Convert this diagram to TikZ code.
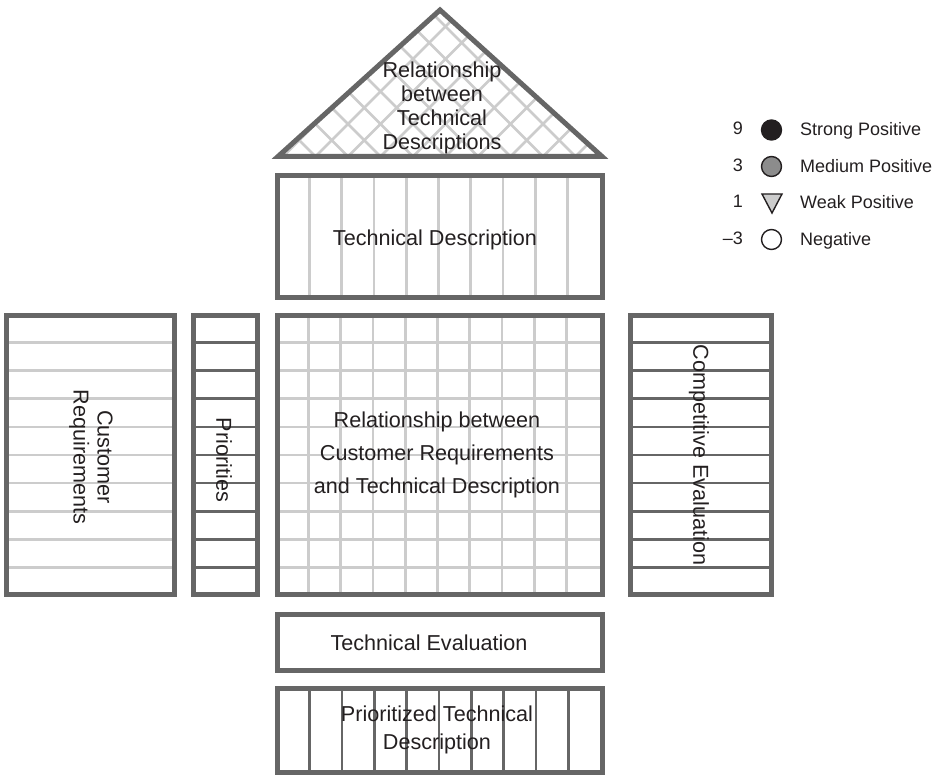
\documentclass[tikz,border=0pt]{standalone}
\usepackage{fontspec}
\setmainfont{Liberation Sans}
\definecolor{frame}{HTML}{666666}
\definecolor{gridc}{HTML}{CCCCCC}
\definecolor{ink}{HTML}{231F20}
\definecolor{medgray}{HTML}{8C8C8C}
\begin{document}
\begin{tikzpicture}[x=1pt,y=-1pt,
  boxframe/.style={draw=frame, line width=5pt, rectangle, inner sep=0pt, outer sep=0pt},
  lightline/.style={draw=gridc, line width=2.7pt},
  darkline/.style={draw=frame, line width=2.7pt},
  lbl/.style={text=ink, font=\fontsize{21.6}{24}\selectfont, align=center, inner sep=0pt},
  leg/.style={text=ink, font=\fontsize{18}{21}\selectfont, inner sep=0pt},
  legdot/.style={circle, draw=ink, line width=1.4pt, minimum size=20pt, inner sep=0pt}
]
\useasboundingbox (0,0) rectangle (945,775);

% ---------- roof ----------
\coordinate (rl) at (278,156.5);
\coordinate (rt) at (440,10);
\coordinate (rr) at (602,156.5);
\begin{scope}
  \clip (rl) -- (rt) -- (rr) -- cycle;
  \foreach \k in {-2,...,12} {
    \draw[lightline] (283+32.5*\k,156.5) -- ++(180,-180);
    \draw[lightline] (283+32.5*\k,156.5) -- ++(-180,-180);
  }
\end{scope}
\draw[draw=frame, line width=5pt, line join=miter] (rl) -- (rt) -- (rr) -- cycle;
\node[lbl] (roofl) at (442,108) {Relationship\\between\\Technical\\Descriptions};

% ---------- grid lines ----------
\foreach \k in {1,...,9} {
  % rows
  \draw[lightline] (6.7,314.6+28.08*\k) -- (174,314.6+28.08*\k);
  \draw[darkline] (193.3,314.6+28.08*\k) -- (257.5,314.6+28.08*\k);
  \draw[lightline] (277.5,314.6+28.08*\k) -- (602.5,314.6+28.08*\k);
  \draw[darkline] (630.5,314.6+28.08*\k) -- (771,314.6+28.08*\k);
  % columns
  \draw[lightline] (277+32.3*\k,175.5) -- (277+32.3*\k,297.5);
  \draw[lightline] (276+32.3*\k,315.5) -- (276+32.3*\k,594.5);
  \draw[darkline] (277.5+32.3*\k,688.5) -- (277.5+32.3*\k,772);
}

% ---------- boxes ----------
\node[boxframe, minimum width=325pt, minimum height=122pt] (td) at (440,236.5) {};
\node[boxframe, minimum width=167.3pt, minimum height=279pt] (cr) at (90.35,455) {};
\node[boxframe, minimum width=64.2pt, minimum height=279pt] (pr) at (225.4,455) {};
\node[boxframe, minimum width=325pt, minimum height=279pt] (rel) at (440,455) {};
\node[boxframe, minimum width=140.5pt, minimum height=279pt] (ce) at (700.75,455) {};
\node[boxframe, minimum width=325pt, minimum height=56pt] (te) at (440,642) {};
\node[boxframe, minimum width=325pt, minimum height=83.5pt] (ptd) at (440,730.25) {};

% ---------- labels ----------
\node[lbl] (tdl) at (435,240) {Technical Description};
\node[lbl, rotate=-90] (crl) at (91,457) {Customer\\Requirements};
\node[lbl, rotate=-90] (prl) at (224,460) {Priorities};
\node[lbl, font=\fontsize{21.6}{33}\selectfont] (rell) at (437,455) {Relationship between\\Customer Requirements\\and Technical Description};
\node[lbl, rotate=-90] (cel) at (699,455) {Competitive Evaluation};
\node[lbl] (tel) at (429,643) {Technical Evaluation};
\node[lbl, font=\fontsize{21.6}{28}\selectfont] (ptdl) at (437,730) {Prioritized Technical\\Description};

% ---------- legend ----------
\node[leg, anchor=mid east] (n9) at (743,132) {9};
\node[leg, anchor=mid east] (n3) at (743,168.5) {3};
\node[leg, anchor=mid east] (n1) at (743,205) {1};
\node[leg, anchor=mid east] (nm3) at (743,241.5) {–3};
\node[legdot, fill=ink] (d9) at (771.5,130) {};
\node[legdot, fill=medgray] (d3) at (771.5,166.5) {};
\node[legdot, fill=white] (dm3) at (771.5,239.5) {};
\coordinate (tria) at (762,194);
\coordinate (trib) at (782,194);
\coordinate (tric) at (772,213);
\draw[draw=ink, line width=1.4pt, fill=gridc, line join=miter] (tria) -- (trib) -- (tric) -- cycle;
\node[leg, anchor=mid west] (t9) at (800,133) {Strong Positive};
\node[leg, anchor=mid west] (t3) at (800,169.5) {Medium Positive};
\node[leg, anchor=mid west] (t1) at (800,206) {Weak Positive};
\node[leg, anchor=mid west] (tm3) at (800,242.5) {Negative};
\end{tikzpicture}
\end{document}
